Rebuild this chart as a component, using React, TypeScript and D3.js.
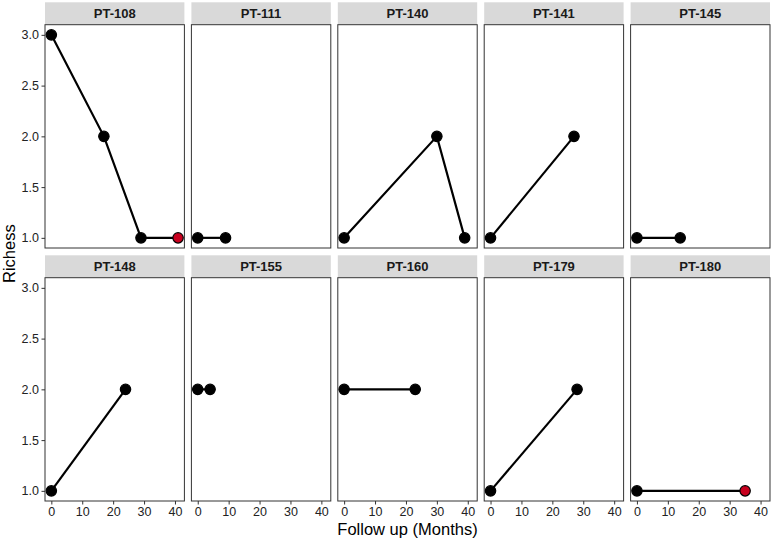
import { select, scaleLinear, axisBottom, axisLeft, line } from 'd3';
import { useEffect, useRef } from 'react';

const patients = ['PT-108', 'PT-111', 'PT-140', 'PT-141', 'PT-145', 'PT-148', 'PT-155', 'PT-160', 'PT-179', 'PT-180'];
const months = [[0, 17, 29, 41], [0, 9], [0, 30, 39], [0, 27], [0, 14], [0, 24], [0, 4], [0, 23], [0, 28], [0, 35]];
const richness = [[3, 2, 1, 1], [1, 1], [1, 2, 1], [1, 2], [1, 1], [1, 2], [2, 2], [2, 2], [1, 2], [1, 1]];
// 1 = point drawn in red
const flagged = [[0, 0, 0, 1], [0, 0], [0, 0, 0], [0, 0], [0, 0], [0, 0], [0, 0], [0, 0], [0, 0], [0, 1]];
const xTicks = [0, 10, 20, 30, 40];
const yTicks = [1.0, 1.5, 2.0, 2.5, 3.0];

const W = 773, H = 542;
const left = 45, pitchX = 146.4, panelW = 139.4;
const top = 2.3, stripH = 22.4, panelH = 223.3, pitchY = 253;

function App() {
  const svgElement = useRef<SVGSVGElement>(null);

  useEffect(() => {
    if (svgElement.current == null) return;
    const svg = select(svgElement.current);
    svg.selectAll('*').remove();

    const x = scaleLinear().domain([-2.05, 43.05]).range([0, panelW]);
    const y = scaleLinear().domain([0.9, 3.1]).range([panelH, 0]);
    const font = 'Liberation Sans, Arial, sans-serif';

    patients.forEach((pt, i) => {
      const col = i % 5, row = Math.floor(i / 5);
      const g = svg.append('g')
        .attr('transform', `translate(${left + col * pitchX},${top + row * pitchY})`);

      g.append('rect').attr('width', panelW).attr('height', stripH).attr('fill', '#d9d9d9');
      g.append('text')
        .attr('x', panelW / 2).attr('y', stripH / 2 + 4.6)
        .attr('text-anchor', 'middle')
        .attr('font-family', font).attr('font-weight', 'bold').attr('font-size', 13)
        .attr('fill', '#1a1a1a')
        .text(pt);

      const p = g.append('g').attr('transform', `translate(0,${stripH})`);
      p.append('rect').attr('width', panelW).attr('height', panelH)
        .attr('fill', 'white').attr('stroke', '#333').attr('stroke-width', 1);

      const pts: Array<[number, number, number]> = months[i].map((m, j) => [m, richness[i][j], flagged[i][j]]);

      p.append('path')
        .datum(pts)
        .attr('fill', 'none')
        .attr('stroke', 'black')
        .attr('stroke-width', 2.2)
        .attr('d', line<[number, number, number]>().x(d => x(d[0])).y(d => y(d[1])));

      p.selectAll('circle')
        .data(pts)
        .enter()
        .append('circle')
        .attr('r', 5.2)
        .attr('cx', d => x(d[0]))
        .attr('cy', d => y(d[1]))
        .attr('fill', d => d[2] ? '#c8001e' : 'black')
        .attr('stroke', 'black')
        .attr('stroke-width', 1.2);

      if (row === 1) {
        const ax = p.append('g')
          .attr('transform', `translate(0,${panelH})`)
          .call(axisBottom(x).tickValues(xTicks).tickSize(3.5).tickPadding(2.5).tickFormat(d => `${d}`));
        ax.select('.domain').remove();
        ax.selectAll('line').attr('stroke', '#333');
        ax.selectAll('text').attr('font-family', font).attr('font-size', 12.5).attr('fill', '#222');
      }
      if (col === 0) {
        const ay = p.append('g')
          .call(axisLeft(y).tickValues(yTicks).tickSize(3.5).tickPadding(2.5).tickFormat(d => (d as number).toFixed(1)));
        ay.select('.domain').remove();
        ay.selectAll('line').attr('stroke', '#333');
        ay.selectAll('text').attr('font-family', font).attr('font-size', 12.5).attr('fill', '#222');
      }
    });

    svg.append('text')
      .attr('x', left + (4 * pitchX + panelW) / 2).attr('y', 535)
      .attr('text-anchor', 'middle')
      .attr('font-family', font).attr('font-size', 16.5).attr('fill', 'black')
      .text('Follow up (Months)');

    svg.append('text')
      .attr('transform', `translate(15,${top + (pitchY + stripH + panelH) / 2 + 2}) rotate(-90)`)
      .attr('text-anchor', 'middle')
      .attr('font-family', font).attr('font-size', 16.5).attr('fill', 'black')
      .text('Richess');
  }, []);

  return (
    <svg ref={svgElement} width={W} height={H}
      style={{ position: 'absolute', left: 0, top: 0, background: 'white' }}></svg>
  );
}

export default App;
